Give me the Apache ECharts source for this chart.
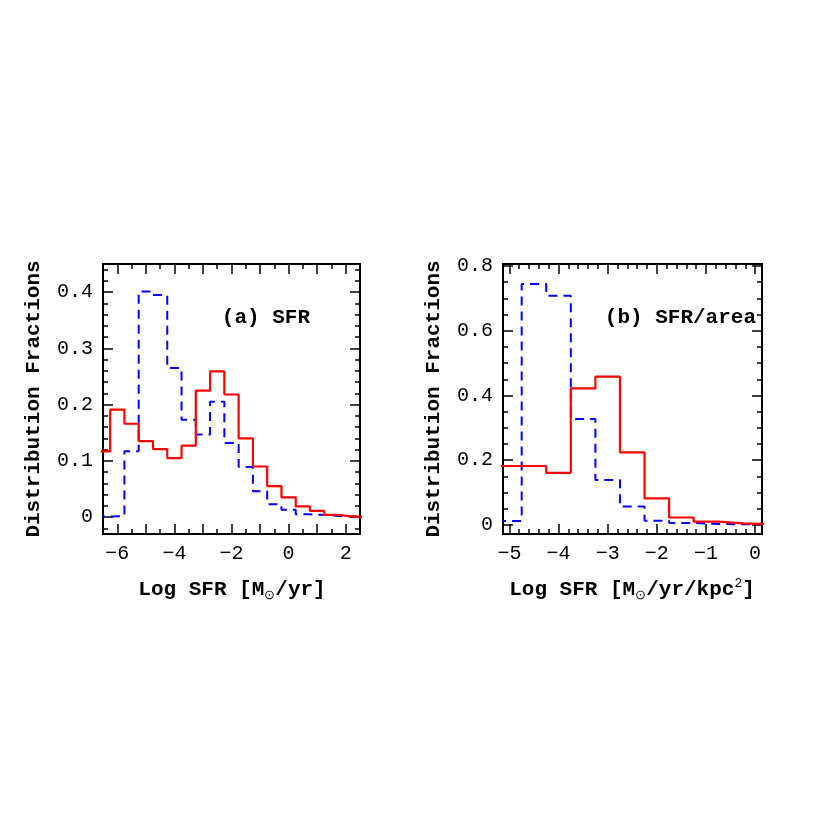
<!DOCTYPE html>
<html><head><meta charset="utf-8">
<script src="https://cdn.jsdelivr.net/npm/echarts@6/dist/echarts.min.js"></script>
<style>html,body{margin:0;background:#fff}#c{width:830px;height:830px}</style>
</head><body><div id="c"></div>
<script>
// Panel (a): bin centres (width 0.5)
const sfrCenters = [-6.5,-6,-5.5,-5,-4.5,-4,-3.5,-3,-2.5,-2,-1.5,-1,-0.5,0,0.5,1,1.5,2,2.5];
const sfrRed  = [0.117,0.191,0.166,0.135,0.121,0.105,0.127,0.225,0.259,0.218,0.140,0.090,0.055,0.035,0.019,0.011,0.004,0.001,0.001];
const sfrBlue = [0.001,0.002,0.117,0.401,0.395,0.265,0.173,0.147,0.205,0.132,0.089,0.046,0.023,0.013,0.005,0.004,0.002,0.001,0.001];
// Panel (b)
const areaCenters = [-5,-4.5,-4,-3.5,-3,-2.5,-2,-1.5,-1,-0.5,0];
const areaRed  = [0.182,0.182,0.161,0.422,0.458,0.224,0.082,0.023,0.010,0.005,0.003];
const areaBlue = [0.012,0.744,0.708,0.327,0.139,0.057,0.013,0.006,0.003,0.002,0.002];
// Ticks
const aXMajor = [-6,-5,-4,-3,-2,-1,0,1,2];
const aXLabels = ['-6','-4','-2','0','2'];
const aYMajor = [0,0.1,0.2,0.3,0.4];
const bXMajor = [-5,-4,-3,-2,-1,0];
const bYMajor = [0,0.2,0.4,0.6,0.8];

function range(a,b,s){const r=[];for(let v=a;v<=b+1e-9;v+=s)r.push(+v.toFixed(4));return r;}
const aXMinor = range(-6.5,2.5,0.5);
const aYMinor = range(-0.02,0.44,0.02);
const bXMinor = range(-5,0.1,0.2);
const bYMinor = range(0,0.8,0.05);

function edges(c,v,w){const d=[];c.forEach((x,i)=>{d.push([x-w/2,v[i]]);d.push([x+w/2,v[i]]);});return d;}

const FONT='Liberation Mono';
const xAxis=[],yAxis=[];
function axes(dim,gi,min,max,major,minor,labels){
  const arr = dim==='x'?xAxis:yAxis;
  const pos = dim==='x'?['bottom','top']:['left','right'];
  pos.forEach((p,k)=>{
    [[major,10,k===0],[minor,5,false]].forEach(([vals,len,lab])=>{
      arr.push({type:'value',gridIndex:gi,position:p,min,max,
        axisLine:{show:true,onZero:false,lineStyle:{color:'#000',width:2}},
        splitLine:{show:false},
        axisTick:{show:true,inside:true,length:len,customValues:vals,lineStyle:{color:'#000',width:1.5}},
        axisLabel:{show:lab,customValues:labels?labels.map(Number):vals,color:'#000',fontFamily:FONT,fontSize:20,margin:10,
          formatter:v=>{let s=(Math.abs(v)<1e-9?'0':String(+v.toFixed(2)));return s.replace('-','\u2212');}}
      });
    });
  });
}
axes('x',0,-6.5,2.5,aXMajor,aXMinor,aXLabels);
axes('y',0,-0.03,0.45,aYMajor,aYMinor,null);
axes('x',1,-5.13,0.14,bXMajor,bXMinor,null);
axes('y',1,-0.028,0.806,bYMajor,bYMinor,null);

const series=[
 {type:'line',xAxisIndex:0,yAxisIndex:0,data:edges(sfrCenters,sfrBlue,0.5),symbol:'none',clip:true,lineStyle:{color:'#0000ff',width:2,type:[9,6]},z:3},
 {type:'line',xAxisIndex:0,yAxisIndex:0,data:edges(sfrCenters,sfrRed,0.5),symbol:'none',clip:true,lineStyle:{color:'#ff0000',width:2.2},z:4},
 {type:'line',xAxisIndex:4,yAxisIndex:4,data:edges(areaCenters,areaBlue,0.5),symbol:'none',clip:true,lineStyle:{color:'#0000ff',width:2,type:[9,6]},z:3},
 {type:'line',xAxisIndex:4,yAxisIndex:4,data:edges(areaCenters,areaRed,0.5),symbol:'none',clip:true,lineStyle:{color:'#ff0000',width:2.2},z:4}
];

const tStyle={fill:'#000',font:'bold 21px "Liberation Mono"'};
const rich={s:{fontFamily:FONT,fontSize:13,verticalAlign:'bottom',padding:[12,0,0,0]},p:{fontFamily:FONT,fontSize:13,verticalAlign:'top',padding:[0,0,10,0]},n:{fontFamily:FONT,fontSize:21,fontWeight:'bold'}};
const chart=echarts.init(document.getElementById('c'));
chart.setOption({
 animation:false,
 grid:[{left:103,top:264,width:257,height:270},{left:503,top:264,width:259,height:270}],
 xAxis,yAxis,series,
 graphic:[
  {type:'text',x:310,y:318,style:Object.assign({},tStyle,{text:'(a) SFR',align:'right',verticalAlign:'middle'})},
  {type:'text',x:756,y:318,style:Object.assign({},tStyle,{text:'(b) SFR/area',align:'right',verticalAlign:'middle'})},
  {type:'text',x:232,y:590,style:{align:'center',verticalAlign:'middle',fill:'#000',text:'{n|Log SFR [M}{s|\u2299}{n|/yr]}',rich}},
  {type:'text',x:632,y:590,style:{align:'center',verticalAlign:'middle',fill:'#000',text:'{n|Log SFR [M}{s|\u2299}{n|/yr/kpc}{p|2}{n|]}',rich}},
  {type:'text',rotation:Math.PI/2,x:34,y:399,style:Object.assign({},tStyle,{text:'Distribution Fractions',align:'center',verticalAlign:'middle'})},
  {type:'text',rotation:Math.PI/2,x:434,y:399,style:Object.assign({},tStyle,{text:'Distribution Fractions',align:'center',verticalAlign:'middle'})}
 ]
});
</script></body></html>
